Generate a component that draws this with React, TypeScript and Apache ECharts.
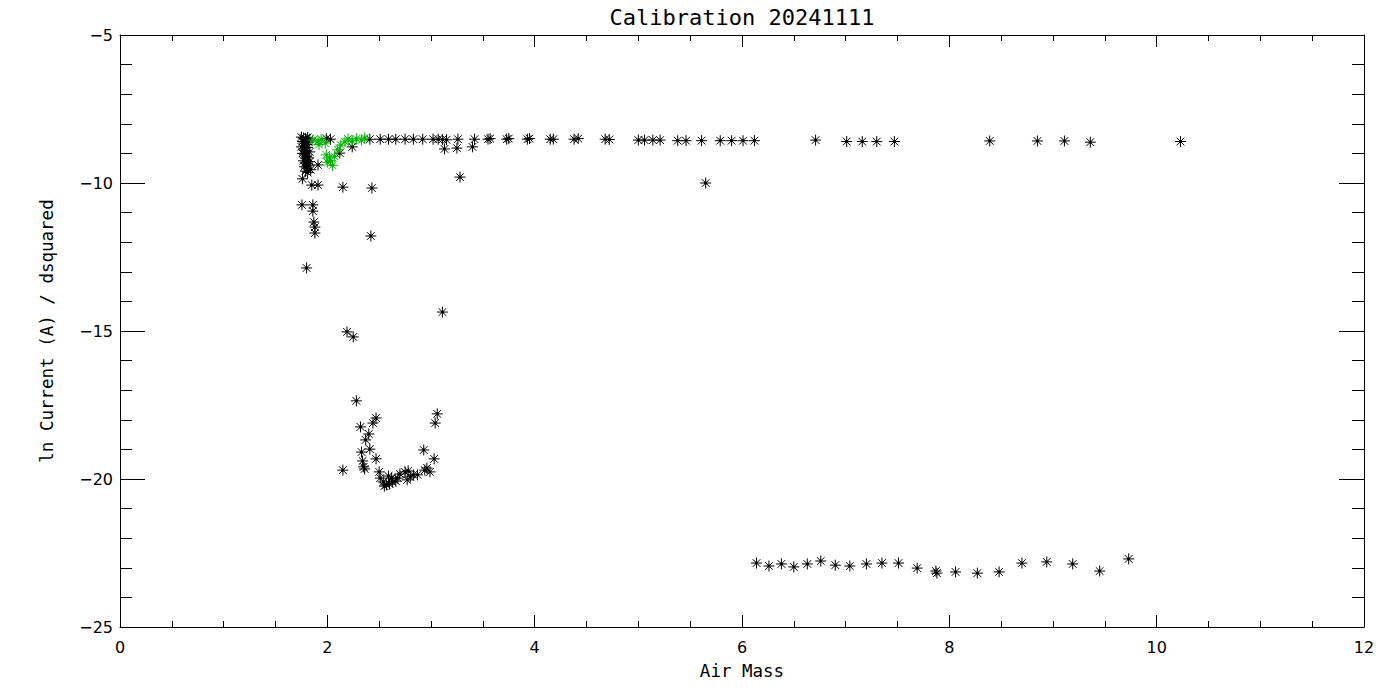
import React, { useEffect, useRef } from "react";
import * as echarts from "echarts";

const titleText = "Calibration 20241111";
const xName = "Air Mass";
const yName = "ln Current (A) / dsquared";

// Black series: [air mass, ln current / d^2]
const blackPoints: number[][] = [
  // dense cluster near air mass 1.75-1.82
  [1.75, -8.45], [1.77, -8.48], [1.79, -8.5], [1.81, -8.46], [1.83, -8.52],
  [1.76, -8.6], [1.78, -8.65], [1.8, -8.7], [1.82, -8.62],
  [1.75, -8.78], [1.77, -8.85], [1.79, -8.9], [1.81, -8.8], [1.83, -8.95],
  [1.76, -9.0], [1.78, -9.05], [1.8, -9.1], [1.82, -9.15],
  [1.77, -9.25], [1.79, -9.3], [1.81, -9.35], [1.83, -9.28],
  [1.78, -9.45], [1.8, -9.5], [1.82, -9.42], [1.84, -9.55],
  [1.79, -9.6], [1.81, -9.65], [1.76, -9.86], [1.91, -9.39],
  [1.99, -8.5], [2.03, -8.52], [2.12, -8.99], [2.24, -8.78],
  // upper row
  [2.41, -8.52], [2.51, -8.52], [2.59, -8.52], [2.66, -8.52], [2.75, -8.52],
  [2.83, -8.52], [2.92, -8.52], [3.02, -8.52], [3.07, -8.52], [3.11, -8.53],
  [3.15, -8.54], [3.26, -8.52], [3.42, -8.52], [3.55, -8.52], [3.57, -8.5],
  [3.73, -8.52], [3.75, -8.5], [3.93, -8.52], [3.95, -8.5], [4.15, -8.52],
  [4.18, -8.52], [4.38, -8.52], [4.42, -8.5], [4.68, -8.52], [4.72, -8.53],
  [5.0, -8.55], [5.06, -8.55], [5.14, -8.55], [5.21, -8.55], [5.38, -8.57],
  [5.46, -8.57], [5.61, -8.57], [5.79, -8.57], [5.9, -8.57], [6.01, -8.57],
  [6.12, -8.57], [6.71, -8.55], [7.01, -8.6], [7.16, -8.6], [7.3, -8.6],
  [7.47, -8.6], [8.39, -8.58], [8.85, -8.58], [9.11, -8.58], [9.36, -8.62],
  [10.23, -8.6],
  // slightly below upper row
  [3.13, -8.85], [3.25, -8.82], [3.4, -8.78], [3.28, -9.8], [5.65, -10.0],
  // scattered between -10 and -13
  [1.85, -10.07], [1.91, -10.07], [2.15, -10.14], [2.43, -10.17],
  [1.755, -10.74], [1.86, -10.74], [1.86, -10.95], [1.87, -11.32],
  [1.88, -11.49], [1.88, -11.69], [2.42, -11.79], [1.8, -12.87],
  // middle
  [2.19, -15.03], [2.25, -15.2], [3.11, -14.36],
  // lower cluster
  [2.28, -17.36], [2.47, -17.94], [2.44, -18.11], [2.32, -18.24], [2.4, -18.48],
  [2.37, -18.68], [2.41, -18.99], [2.33, -19.09], [2.47, -19.32], [2.34, -19.39],
  [2.35, -19.59], [2.36, -19.66], [2.15, -19.7], [2.5, -19.76],
  [2.51, -19.97], [2.54, -20.1], [2.57, -20.2], [2.6, -20.17], [2.63, -20.1],
  [2.66, -20.07], [2.59, -19.9], [2.55, -20.24], [2.62, -19.97], [2.68, -19.97],
  [2.7, -19.83], [2.75, -19.76], [2.78, -19.73], [2.77, -20.03], [2.83, -19.86],
  [2.87, -19.86], [2.8, -19.93], [2.94, -19.7], [2.99, -19.76], [2.96, -19.63],
  [2.93, -19.02], [3.03, -19.32], [3.06, -17.8], [3.04, -18.11],
  // bottom row
  [6.14, -22.84], [6.26, -22.94], [6.38, -22.87], [6.5, -22.97], [6.63, -22.87],
  [6.76, -22.77], [6.9, -22.91], [7.04, -22.94], [7.2, -22.87], [7.35, -22.84],
  [7.51, -22.84], [7.69, -23.01], [7.87, -23.11], [7.88, -23.18], [8.06, -23.14],
  [8.27, -23.18], [8.48, -23.14], [8.7, -22.84], [8.94, -22.8], [9.19, -22.87],
  [9.45, -23.11], [9.73, -22.7],
];

// Green series
const greenPoints: number[][] = [
  [1.86, -8.55], [1.91, -8.58], [1.94, -8.52], [1.98, -8.65], [1.92, -8.7],
  [1.99, -9.05], [2.02, -9.15], [2.0, -9.3], [2.05, -9.4], [2.03, -9.25],
  [2.07, -9.1], [2.1, -8.88], [2.13, -8.72], [2.17, -8.61], [2.2, -8.51],
  [2.24, -8.58], [2.28, -8.51], [2.33, -8.55], [2.36, -8.48],
];

const xTicks = { min: 0, max: 12, interval: 2 };
const yTicks = { min: -25, max: -5, interval: 5 };

const STAR =
  "path://M0,5L10,5M5,0L5,10M1.5,1.5L8.5,8.5M8.5,1.5L1.5,8.5M4.2,4.2L5.8,4.2L5.8,5.8L4.2,5.8Z";
const FONT = "DejaVu Sans";
const NAME_FONT = "DejaVu Sans Mono";

export default function App() {
  const ref = useRef<HTMLDivElement>(null);
  useEffect(() => {
    if (!ref.current) return;
    const chart = echarts.init(ref.current, null, { renderer: "svg" });
    const fmt = (v: number) => (v < 0 ? "\u2212" + Math.abs(v) : String(v));
    const axisLine = { show: true, onZero: false, lineStyle: { color: "#000", width: 1 } };
    const xAxisBase = {
      type: "value",
      min: xTicks.min,
      max: xTicks.max,
      interval: xTicks.interval,
      axisLine,
      axisTick: { show: true, inside: true, length: 12, lineStyle: { color: "#000" } },
      minorTick: { show: true, splitNumber: 4, length: 6, lineStyle: { color: "#000" } },
      splitLine: { show: false },
    };
    const yAxisBase = {
      type: "value",
      min: yTicks.min,
      max: yTicks.max,
      interval: yTicks.interval,
      axisLine,
      axisTick: { show: true, inside: true, length: 25, lineStyle: { color: "#000" } },
      minorTick: { show: true, splitNumber: 5, length: 12, lineStyle: { color: "#000" } },
      splitLine: { show: false },
    };
    chart.setOption({
      animation: false,
      backgroundColor: "#fff",
      grid: { left: 120, top: 35, right: 36, bottom: 73, containLabel: false },
      xAxis: [
        {
          ...xAxisBase,
          position: "bottom",
          axisLabel: { color: "#000", fontSize: 16, fontFamily: FONT, margin: 12, formatter: fmt },
        },
        { ...xAxisBase, position: "top", axisLabel: { show: false } },
      ],
      yAxis: [
        {
          ...yAxisBase,
          position: "left",
          axisLabel: { color: "#000", fontSize: 16, fontFamily: FONT, margin: 7, formatter: fmt },
        },
        { ...yAxisBase, position: "right", axisLabel: { show: false } },
      ],
      series: [
        {
          type: "scatter",
          data: blackPoints,
          symbol: STAR,
          symbolSize: 11,
          itemStyle: { color: "#000", borderColor: "#000", borderWidth: 1, opacity: 1 },
          emphasis: { disabled: true },
        },
        {
          type: "scatter",
          data: greenPoints,
          symbol: STAR,
          symbolSize: 11,
          itemStyle: { color: "#00b400", borderColor: "#00b400", borderWidth: 1, opacity: 1 },
          emphasis: { disabled: true },
        },
      ],
      graphic: [
        {
          type: "text",
          x: 742,
          y: 17,
          style: {
            text: titleText,
            fill: "#000",
            font: `22px '${NAME_FONT}'`,
            align: "center",
            verticalAlign: "middle",
          },
        },
        {
          type: "text",
          x: 742,
          y: 671,
          style: {
            text: xName,
            fill: "#000",
            font: `17.5px '${NAME_FONT}'`,
            align: "center",
            verticalAlign: "middle",
          },
        },
        {
          type: "text",
          x: 47,
          y: 331,
          rotation: Math.PI / 2,
          style: {
            text: yName,
            fill: "#000",
            font: `17.5px '${NAME_FONT}'`,
            align: "center",
            verticalAlign: "middle",
          },
        },
      ],
    });
    return () => chart.dispose();
  }, []);
  return (
    <div
      ref={ref}
      style={{ position: "absolute", left: 0, top: 0, width: 1400, height: 700, background: "#fff" }}
    />
  );
}
